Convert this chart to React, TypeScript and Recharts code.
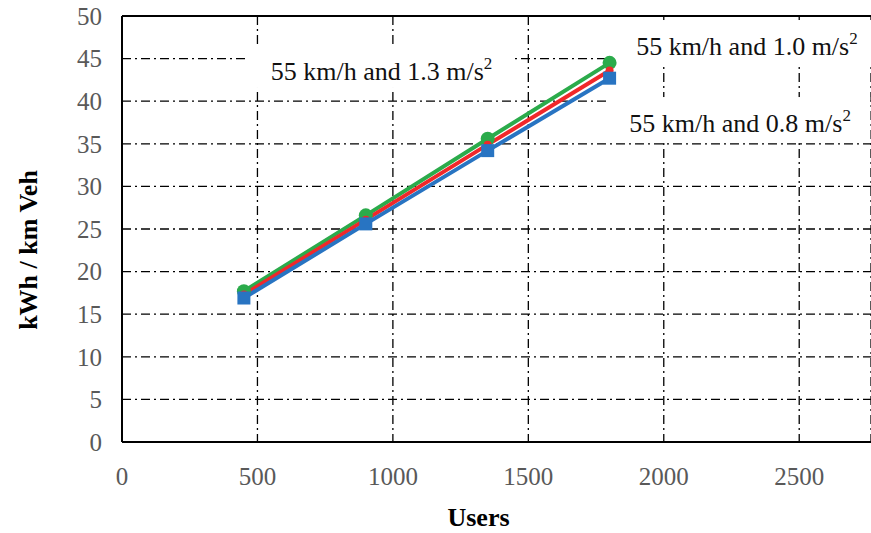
import React from "react";
import {
  CartesianGrid,
  Line,
  LineChart,
  ReferenceDot,
  ReferenceLine,
  XAxis,
  YAxis,
} from "recharts";

const users = [450, 900, 1350, 1800];
const accel13 = [17.7, 26.6, 35.6, 44.5];
const accel10 = [17.3, 26.1, 34.9, 43.6];
const accel08 = [16.9, 25.6, 34.2, 42.7];

const xTicks = [0, 500, 1000, 1500, 2000, 2500];
const yTicks = [0, 5, 10, 15, 20, 25, 30, 35, 40, 45, 50];

const notes = [
  { x: 958, y: 43.43, speed: "55 km/h", accel: "1.3" },
  { x: 2307, y: 46.36, speed: "55 km/h", accel: "1.0" },
  { x: 2282, y: 37.32, speed: "55 km/h", accel: "0.8" },
];

const rows = users.map((u, i) => ({
  users: u,
  a13: accel13[i],
  a10: accel10[i],
  a08: accel08[i],
}));

const FONT = "Liberation Serif, Times New Roman, serif";
const tickStyle = { fill: "#595959", fontFamily: FONT, fontSize: 25 };
const titleStyle = { fill: "#000", fontFamily: FONT, fontSize: 26, fontWeight: "bold" as const };

const SquareDot = (props: any) => {
  const { cx, cy, index } = props;
  if (cx == null || cy == null) return <g key={index} />;
  return (
    <rect key={index} x={cx - 6.5} y={cy - 6.5} width={13} height={13} fill="#2874c2" />
  );
};

// white box behind each annotation hides the grid underneath
const NoteBox = (speed: string, accel: string) => (props: any) => {
  const { cx, cy } = props;
  return (
    <g>
      <rect x={cx - 134} y={cy - 27} width={264} height={43} fill="#fff" />
      <text x={cx} y={cy + 8} textAnchor="middle" style={{ fontFamily: FONT, fontSize: 26, fill: "#111" }}>
        {speed} and {accel} m/s
        <tspan dy={-11} style={{ fontSize: 17 }}>
          2
        </tspan>
      </text>
    </g>
  );
};

const YTitle = ({ viewBox }: any) => {
  const x = viewBox.x + 28;
  const y = viewBox.y + viewBox.height / 2 + 21;
  return (
    <text
      x={x}
      y={y}
      transform={`rotate(-90, ${x}, ${y})`}
      textAnchor="middle"
      dominantBaseline="central"
      style={titleStyle}
    >
      kWh / km Veh
    </text>
  );
};

const XTitle = ({ viewBox }: any) => (
  <text
    x={viewBox.x + viewBox.width / 2 - 18}
    y={viewBox.y + 84}
    textAnchor="middle"
    style={titleStyle}
  >
    Users
  </text>
);

export default function App() {
  return (
    <div style={{ position: "absolute", left: 0, top: 0, width: 871, height: 533, overflow: "hidden", background: "#fff" }}>
      <LineChart
        width={871}
        height={533}
        data={rows}
        margin={{ top: 16, right: 0, bottom: 0, left: 0 }}
      >
        <CartesianGrid stroke="#000" strokeWidth={1.3} strokeDasharray="9 4 2 4" />
        <XAxis
          dataKey="users"
          type="number"
          domain={[0, 2765]}
          ticks={xTicks}
          tickLine={false}
          axisLine={{ stroke: "#000", strokeWidth: 2 }}
          tick={tickStyle}
          tickMargin={19}
          height={91}
          label={<XTitle />}
        />
        <YAxis
          type="number"
          domain={[0, 50]}
          ticks={yTicks}
          tickLine={false}
          axisLine={{ stroke: "#000", strokeWidth: 2 }}
          tick={tickStyle}
          tickMargin={14}
          width={122}
          label={<YTitle />}
        />
        {notes.map((n) => (
          <ReferenceDot
            key={n.accel}
            x={n.x}
            y={n.y}
            r={0}
            ifOverflow="visible"
            shape={NoteBox(n.speed, n.accel)}
          />
        ))}
        <ReferenceLine y={50} stroke="#000" strokeWidth={2} />
        <Line
          dataKey="a13"
          stroke="#2bab4b"
          strokeWidth={4}
          dot={{ r: 7, fill: "#2bab4b", stroke: "none" }}
          isAnimationActive={false}
        />
        <Line
          dataKey="a10"
          stroke="#f0282a"
          strokeWidth={4}
          dot={{ r: 4, fill: "#f0282a", stroke: "none" }}
          isAnimationActive={false}
        />
        <Line
          dataKey="a08"
          stroke="#2874c2"
          strokeWidth={4}
          dot={<SquareDot />}
          isAnimationActive={false}
        />
      </LineChart>
    </div>
  );
}
